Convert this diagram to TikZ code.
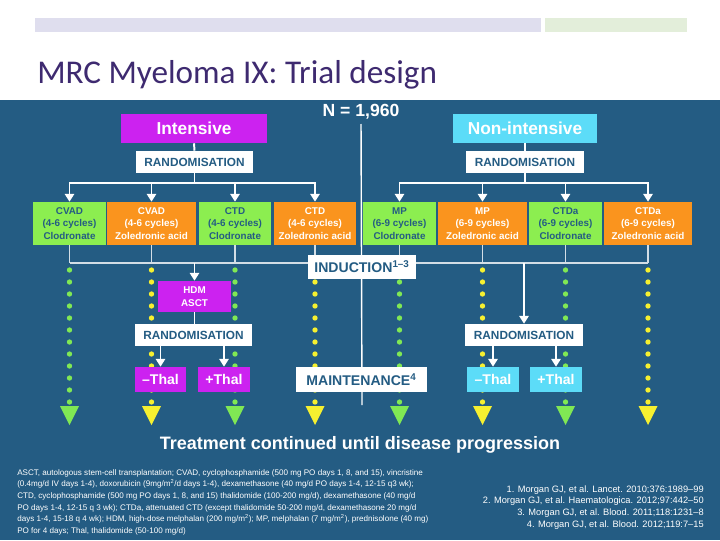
\documentclass[tikz,border=0pt]{standalone}
\usepackage{fontspec}
\setmainfont{Liberation Sans}
\newfontfamily\titlefont{Carlito}
\usetikzlibrary{arrows.meta}
\usetikzlibrary{positioning}
\definecolor{panel}{RGB}{36,92,131}
\definecolor{barlav}{RGB}{223,222,238}
\definecolor{bargreen}{RGB}{227,238,218}
\definecolor{titlepurple}{RGB}{62,42,112}
\definecolor{intmag}{RGB}{204,34,240}
\definecolor{noncyan}{RGB}{92,220,248}
\definecolor{armgreen}{RGB}{140,238,80}
\definecolor{armorange}{RGB}{250,148,30}
\definecolor{dotgreen}{RGB}{128,232,84}
\definecolor{dotyellow}{RGB}{246,240,48}

\begin{document}
\begin{tikzpicture}[x=0.025cm,y=-0.025cm,
  every node/.style={inner sep=0pt},
  box/.style 2 args={minimum width=#1*0.025cm,minimum height=#2*0.025cm,align=center},
  armbox/.style={font=\bfseries\fontsize{7}{8.9}\selectfont},
  groupbox/.style={text=white,font=\bfseries\fontsize{12.3}{14}\selectfont},
  randbox/.style={fill=white,text=panel,font=\bfseries\fontsize{8.4}{10}\selectfont},
  stagebox/.style={fill=white,text=panel,font=\bfseries\fontsize{10}{12}\selectfont},
  thalbox/.style={text=white,font=\bfseries\fontsize{10}{12}\selectfont},
  lead/.style={draw=white,line width=1.4pt},
  feed/.style={draw=white!80!panel,line width=0.9pt},
  downarrow/.style={-{Triangle[width=6.5pt,length=5.5pt]}}
]

% Fond
\fill[white] (0,0) rectangle (720,540);
\useasboundingbox (0,0) rectangle (720,540);
\fill[barlav] (35,18) rectangle (541,32);
\fill[bargreen] (545,18) rectangle (687,32);
\node[anchor=base west,text=titlepurple,font=\titlefont\fontsize{23.6}{28}\selectfont] (title) at (37,83) {MRC Myeloma IX: Trial design};
\fill[panel] (0,100) rectangle (720,540);

% Grupos
\node[text=white,font=\bfseries\fontsize{12.5}{14}\selectfont] (ncount) at (361,112) {N = 1,960};
\node[box={146}{29},groupbox,fill=intmag] (intens) at (194,128.5) {Intensive};
\node[box={144}{29},groupbox,fill=noncyan] (nonint) at (525,128.5) {Non-intensive};
\node[box={117}{22},randbox] (randL) at (194.5,162) {RANDOMISATION};
\node[box={118}{22},randbox] (randR) at (525,162) {RANDOMISATION};

% Indução
\node[box={73}{43},armbox,fill=armgreen,text=panel] (a1) at (69.5,223.5) {CVAD\\(4-6 cycles)\\Clodronate};
\node[box={89}{43},armbox,fill=armorange,text=white] (a2) at (151.5,223.5) {CVAD\\(4-6 cycles)\\Zoledronic acid};
\node[box={72}{43},armbox,fill=armgreen,text=panel] (a3) at (235,223.5) {CTD\\(4-6 cycles)\\Clodronate};
\node[box={82}{43},armbox,fill=armorange,text=white] (a4) at (315,223.5) {CTD\\(4-6 cycles)\\Zoledronic acid};
\node[box={73}{43},armbox,fill=armgreen,text=panel] (a5) at (399.5,223.5) {MP\\(6-9 cycles)\\Clodronate};
\node[box={89}{43},armbox,fill=armorange,text=white] (a6) at (482.5,223.5) {MP\\(6-9 cycles)\\Zoledronic acid};
\node[box={73}{43},armbox,fill=armgreen,text=panel] (a7) at (565.5,223.5) {CTDa\\(6-9 cycles)\\Clodronate};
\node[box={88}{43},armbox,fill=armorange,text=white] (a8) at (648,223.5) {CTDa\\(6-9 cycles)\\Zoledronic acid};

\draw[lead] (intens.south) -- (randL.north);
\draw[lead] (nonint.south) -- (randR.north);
\foreach \a in {a1,a2,a3,a4}
  \draw[lead,downarrow] (randL.south) -- ++(0,10) -| (\a.north);
\foreach \a in {a5,a6,a7,a8}
  \draw[lead,downarrow] (randR.south) -- ++(0,10) -| (\a.north);

% Colunas pontilhadas
\coordinate (indbar) at (0,263);
\coordinate (nend) at (362,405);
\foreach \a/\cx/\dc in {a1/69.5/dotgreen,a2/151.5/dotyellow,a3/235/dotgreen,a4/315/dotyellow,
                        a5/399.5/dotgreen,a6/482.5/dotyellow,a7/565.5/dotgreen,a8/648/dotyellow} {
  \draw[feed] (\a.south) -- (\a.south |- indbar);
  \foreach \k in {0,...,11}
    \fill[\dc] (\cx,270+12*\k) circle (1.9pt);
  \fill[\dc] (\cx-9.5,406) -- (\cx+9.5,406) -- (\cx,425) -- cycle;
}
\draw[white,line width=1pt,shorten <=3pt] (ncount.south) -- (nend);

% Manutenção
\node[box={108}{24},stagebox] (induct) at (362,267) {INDUCTION\textsuperscript{1--3}};
\node[box={73}{31},fill=intmag,text=white,font=\bfseries\fontsize{7}{9.5}\selectfont] (hdm) at (194.5,296.5) {HDM\\ASCT};
\node[box={117}{22},randbox] (rand2L) at (193.5,335) {RANDOMISATION};
\node[box={118}{22},randbox] (rand2R) at (524,335) {RANDOMISATION};
\node[box={51}{25},thalbox,fill=intmag] (mthalL) at (160.5,379.5) {--Thal};
\node[box={52}{25},thalbox,fill=intmag] (pthalL) at (224,379.5) {+Thal};
\node[box={131}{25},stagebox] (maint) at (361.5,379.5) {MAINTENANCE\textsuperscript{4}};
\node[box={52}{25},thalbox,fill=noncyan] (mthalR) at (493,379.5) {--Thal};
\node[box={52}{25},thalbox,fill=noncyan] (pthalR) at (556,379.5) {+Thal};

\draw[feed] (a1.south |- indbar) -- (indbar -| induct.west);
\draw[feed] (indbar -| induct.east) -- (a8.south |- indbar);
\draw[lead,downarrow] (hdm.north |- indbar) -- (hdm.north);
\draw[lead,downarrow] (rand2R.north |- indbar) -- (rand2R.north);
\draw[lead] (hdm.south) -- (hdm.south |- rand2L.north);
\draw[lead,downarrow] (mthalL.north |- rand2L.south) -- (mthalL.north);
\draw[lead,downarrow] (pthalL.north |- rand2L.south) -- (pthalL.north);
\draw[lead,downarrow] (mthalR.north |- rand2R.south) -- (mthalR.north);
\draw[lead,downarrow] (pthalR.north |- rand2R.south) -- (pthalR.north);

% Rodapé
\node[text=white,font=\bfseries\fontsize{12.8}{15}\selectfont] (cont) at (360,445) {Treatment continued until disease progression};
\node[anchor=north west,align=left,text=white,font=\fontsize{5.75}{8.3}\selectfont] (abbr) at (17,469) {%
ASCT, autologous stem-cell transplantation; CVAD, cyclophosphamide (500 mg PO days 1, 8, and 15), vincristine\\
(0.4mg/d IV days 1-4), doxorubicin (9mg/m\textsuperscript{2}/d days 1-4), dexamethasone (40 mg/d PO days 1-4, 12-15 q3 wk);\\
CTD, cyclophosphamide (500 mg PO days 1, 8, and 15) thalidomide (100-200 mg/d), dexamethasone (40 mg/d\\
PO days 1-4, 12-15 q 3 wk); CTDa, attenuated CTD (except thalidomide 50-200 mg/d, dexamethasone 20 mg/d\\
days 1-4, 15-18 q 4 wk); HDM, high-dose melphalan (200 mg/m\textsuperscript{2}); MP, melphalan (7 mg/m\textsuperscript{2}), prednisolone (40 mg)\\
PO for 4 days; Thal, thalidomide (50-100 mg/d)};
\node[anchor=north east,align=right,text=white,font=\fontsize{6.6}{8.5}\selectfont] (refs) at (704,485) {%
1. Morgan GJ, et al. Lancet. 2010;376:1989--99\\
2. Morgan GJ, et al. Haematologica. 2012;97:442--50\\
3. Morgan GJ, et al. Blood. 2011;118:1231--8\\
4. Morgan GJ, et al. Blood. 2012;119:7--15};

\end{tikzpicture}
\end{document}
